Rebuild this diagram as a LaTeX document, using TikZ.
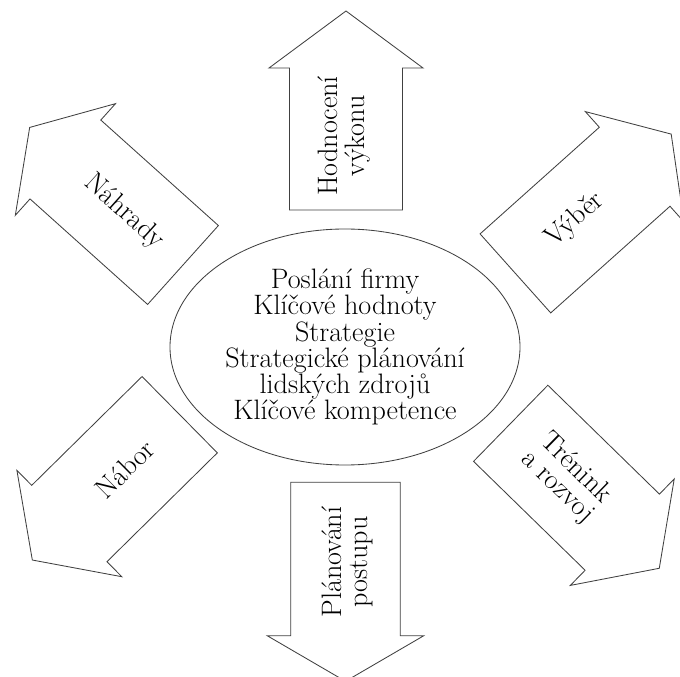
\documentclass[tikz,border=0pt]{standalone}
\usepackage{fontspec}
\usepackage{tikz}
\usetikzlibrary{shapes.geometric}

\newcommand{\bigtext}{\fontsize{20}{18.6}\selectfont}

% block arrow: shaft length, head length, shaft half width, head half width
\tikzset{
  pics/bigarrow/.style n args={4}{code={
    \draw[outline] (0,-#3) -- (#1,-#3) -- (#1,-#4) -- (#1+#2,0) -- (#1,#4) -- (#1,#3) -- (0,#3) -- cycle;
  }}
}

\begin{document}
\begin{tikzpicture}[
    outline/.style={draw=black!75, line width=0.6pt, fill=white, line join=miter},
    hub/.style={ellipse, draw=black!75, line width=0.6pt, minimum width=8.75cm, minimum height=5.9cm, inner sep=0pt, align=center, font=\bigtext},
    caption/.style={align=center, font=\bigtext, inner sep=0pt}
]
\useasboundingbox (0,0) rectangle (17,-16.925);

% ── Central ellipse ──
\node[hub] (core) at (8.625,-8.675) {Poslání firmy\\Klíčové hodnoty\\Strategie\\Strategické plánování\\lidských zdrojů\\Klíčové kompetence};

% ── Arrows around the ellipse ──
\pic[rotate=90] at (8.65,-5.25) {bigarrow={3.55}{1.425}{1.4125}{1.925}};
\node[caption, rotate=90] (hodnoceni) at (8.6,-3.4) {Hodnocení\\výkonu};

\pic[rotate=41.8] at (12.885,-6.835) {bigarrow={4.0}{1.225}{1.325}{1.85}};
\node[caption, rotate=41.8] (vyber) at (14.375,-5.5025) {Výběr};

\pic[rotate=-44.3] at (12.7675,-10.5825) {bigarrow={3.8975}{1.2925}{1.33}{1.86}};
\node[caption, rotate=-44.3] (trenink) at (14.1625,-11.945) {Trénink\\a rozvoj};

\pic[rotate=-90] at (8.6375,-12.0575) {bigarrow={3.835}{1.14}{1.3675}{1.9575}};
\node[caption, rotate=90] (planovani) at (8.68,-14.05) {Plánování\\postupu};

\pic[rotate=224.6] at (4.4925,-10.3675) {bigarrow={3.875}{1.3}{1.34}{1.8675}};
\node[caption, rotate=44.6] (nabor) at (3.1125,-11.7275) {Nábor};

\pic[rotate=138.1] at (4.575,-6.625) {bigarrow={3.95}{1.2}{1.325}{1.875}};
\node[caption, rotate=-41.9] (nahrady) at (3.105,-5.305) {Náhrady};

\end{tikzpicture}
\end{document}
